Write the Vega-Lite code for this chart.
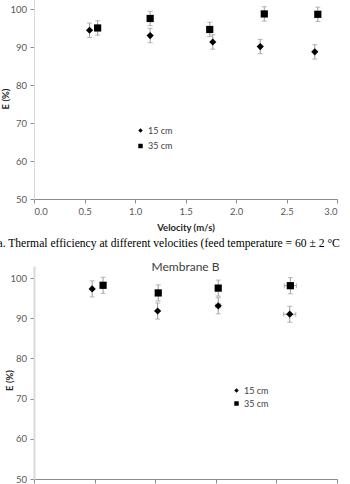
{
  "$schema": "https://vega.github.io/schema/vega-lite/v6.json",
  "padding": {"left": -3, "top": -11, "right": -4, "bottom": 0},
  "title": {
    "text": "Membrane B",
    "anchor": "middle",
    "frame": "bounds",
    "offset": -4,
    "font": "Lato",
    "fontSize": 12,
    "fontWeight": "normal",
    "color": "#404040"
  },
  "datasets": {
    "by_velocity": [
      {"velocity": 0.55, "height": "15 cm", "E": 94.5, "err": 1.9},
      {"velocity": 0.63, "height": "35 cm", "E": 95.1, "err": 1.9},
      {"velocity": 1.15, "height": "15 cm", "E": 93.1, "err": 1.9},
      {"velocity": 1.15, "height": "35 cm", "E": 97.6, "err": 1.9},
      {"velocity": 1.77, "height": "15 cm", "E": 91.4, "err": 1.9},
      {"velocity": 1.74, "height": "35 cm", "E": 94.7, "err": 1.9},
      {"velocity": 2.24, "height": "15 cm", "E": 90.2, "err": 1.9},
      {"velocity": 2.28, "height": "35 cm", "E": 98.8, "err": 1.9},
      {"velocity": 2.78, "height": "15 cm", "E": 88.8, "err": 1.9},
      {"velocity": 2.81, "height": "35 cm", "E": 98.7, "err": 1.9}
    ],
    "by_temperature": [
      {"temperature": 39.6, "height": "15 cm", "E": 97.3, "err": 2.0, "terr": 0},
      {"temperature": 41.4, "height": "35 cm", "E": 98.2, "err": 2.0, "terr": 0},
      {"temperature": 50.4, "height": "15 cm", "E": 91.8, "err": 2.0, "terr": 0},
      {"temperature": 50.5, "height": "35 cm", "E": 96.3, "err": 2.0, "terr": 0},
      {"temperature": 60.4, "height": "15 cm", "E": 93.1, "err": 2.0, "terr": 0.4},
      {"temperature": 60.4, "height": "35 cm", "E": 97.5, "err": 2.0, "terr": 0.4},
      {"temperature": 72.2, "height": "15 cm", "E": 91.0, "err": 2.0, "terr": 1.0},
      {"temperature": 72.3, "height": "35 cm", "E": 98.1, "err": 2.0, "terr": 1.0}
    ]
  },
  "spacing": 11,
  "resolve": {
    "scale": {"x": "independent", "y": "independent", "shape": "independent"},
    "legend": {"shape": "independent"}
  },
  "vconcat": [
    {
      "width": 303,
      "height": 201,
      "title": {
        "text": "a. Thermal efficiency at different velocities (feed temperature = 60 ± 2 °C)",
        "orient": "bottom",
        "anchor": "start",
        "frame": "group",
        "dx": -36.5,
        "offset": 6,
        "font": "Liberation Serif",
        "fontSize": 11.6,
        "fontWeight": "normal",
        "color": "#000000"
      },
      "data": {"name": "by_velocity"},
      "encoding": {
        "x": {
          "field": "velocity",
          "type": "quantitative",
          "scale": {"domain": [0, 3], "nice": false},
          "axis": {
            "title": "Velocity (m/s)",
            "values": [0, 0.5, 1, 1.5, 2, 2.5, 3],
            "format": ".1f",
            "labelPadding": 3,
            "titlePadding": 7
          }
        },
        "y": {
          "field": "E",
          "type": "quantitative",
          "scale": {"domain": [50, 103], "nice": false, "zero": false},
          "axis": {
            "title": "E (%)",
            "values": [50, 60, 70, 80, 90, 100],
            "domainColor": "#d9d9d9",
            "labelPadding": 3.5,
            "titleX": -24
          }
        }
      },
      "layer": [
        {
          "mark": {"type": "errorbar", "color": "#9a9a9a", "thickness": 1, "ticks": {"size": 5, "thickness": 1}},
          "encoding": {"yError": {"field": "err"}}
        },
        {
          "mark": {"type": "point", "filled": true, "color": "#000000", "opacity": 1, "size": 52},
          "encoding": {
            "shape": {
              "field": "height",
              "type": "nominal",
              "scale": {"domain": ["15 cm", "35 cm"], "range": ["diamond", "square"]},
              "legend": {"title": null, "orient": "none", "legendX": 102, "legendY": 128, "rowPadding": 5.5}
            }
          }
        }
      ]
    },
    {
      "width": 303,
      "height": 213,
      "title": {
        "text": "Membrane B",
        "anchor": "middle",
        "offset": -8,
        "font": "Lato",
        "fontSize": 12,
        "fontWeight": "normal",
        "color": "#404040"
      },
      "data": {"name": "by_temperature"},
      "encoding": {
        "x": {
          "field": "temperature",
          "type": "quantitative",
          "scale": {"domain": [30, 80], "nice": false, "zero": false},
          "axis": {
            "title": null,
            "labels": false,
            "values": [30, 40, 50, 60, 70, 80]
          }
        },
        "y": {
          "field": "E",
          "type": "quantitative",
          "scale": {"domain": [50, 103], "nice": false, "zero": false},
          "axis": {
            "title": "E (%)",
            "values": [50, 60, 70, 80, 90, 100],
            "domainColor": "#d9d9d9",
            "domainWidth": 2,
            "labelPadding": 3.5,
            "titleX": -20,
            "titleY": 114
          }
        }
      },
      "layer": [
        {
          "mark": {"type": "errorbar", "color": "#9a9a9a", "thickness": 1, "ticks": {"size": 5, "thickness": 1}},
          "encoding": {"yError": {"field": "err"}}
        },
        {
          "transform": [{"filter": "datum.terr > 0"}],
          "mark": {"type": "errorbar", "color": "#9a9a9a", "thickness": 1, "ticks": {"size": 5, "thickness": 1}},
          "encoding": {"xError": {"field": "terr"}}
        },
        {
          "mark": {"type": "point", "filled": true, "color": "#000000", "opacity": 1, "size": 52},
          "encoding": {
            "shape": {
              "field": "height",
              "type": "nominal",
              "scale": {"domain": ["15 cm", "35 cm"], "range": ["diamond", "square"]},
              "legend": {"title": null, "orient": "none", "legendX": 198, "legendY": 120, "rowPadding": 3}
            }
          }
        }
      ]
    }
  ],
  "config": {
    "view": {"stroke": null},
    "axis": {
      "grid": false,
      "labelFont": "Lato",
      "labelFontSize": 9.5,
      "labelColor": "#595959",
      "titleFont": "Lato",
      "titleFontSize": 9.5,
      "titleFontWeight": "bold",
      "titleColor": "#262626",
      "tickColor": "#8c8c8c",
      "domainColor": "#8c8c8c",
      "tickSize": 4
    },
    "legend": {
      "labelFont": "Lato",
      "labelFontSize": 9,
      "labelColor": "#404040",
      "symbolSize": 20,
      "symbolFillColor": "#000000",
      "symbolStrokeWidth": 0,
      "labelOffset": 3,
      "padding": 0
    }
  }
}
